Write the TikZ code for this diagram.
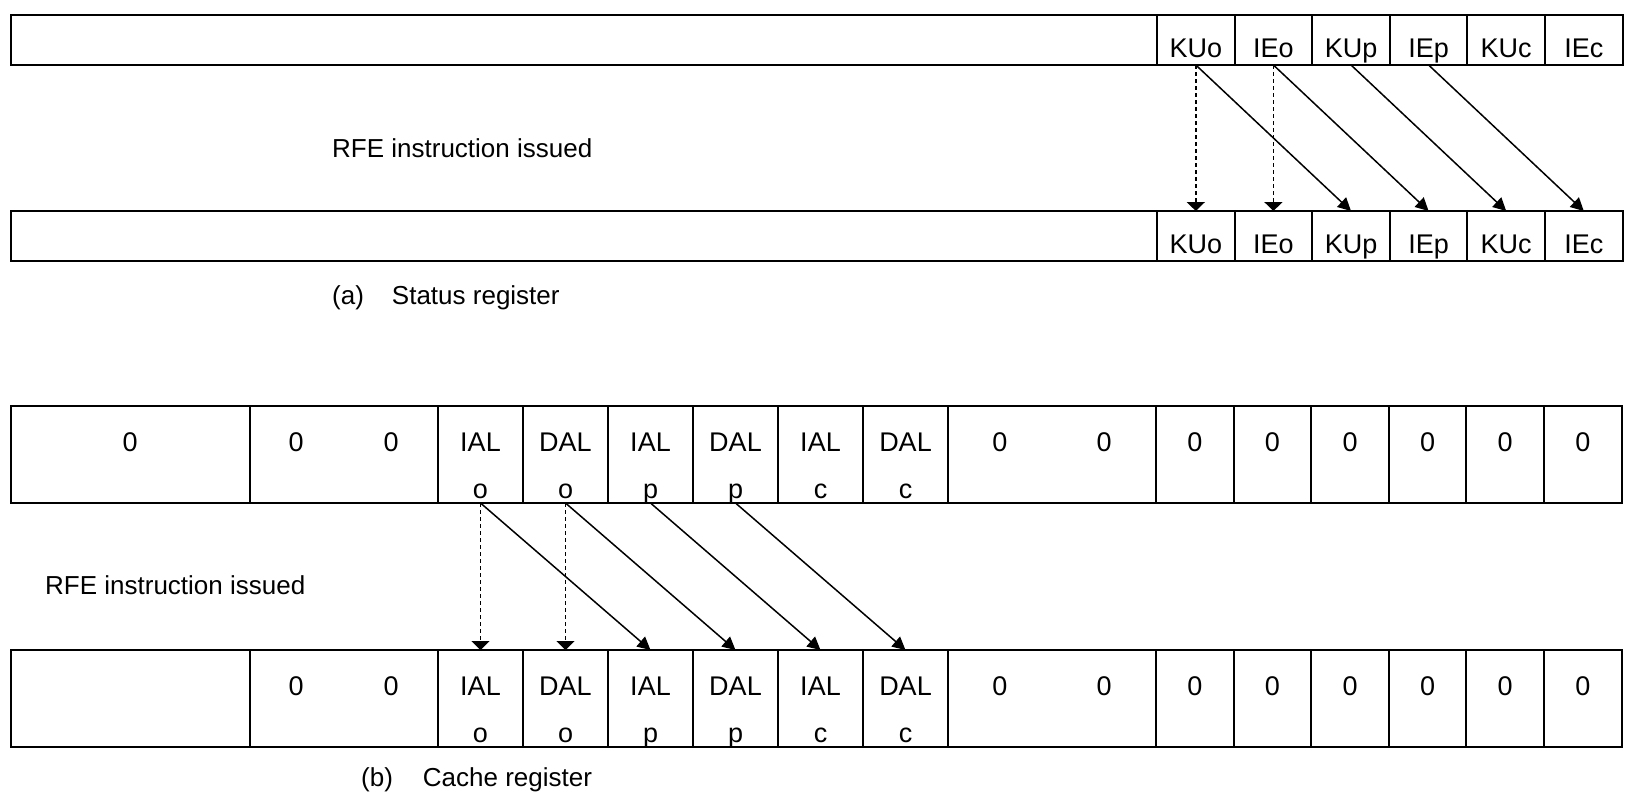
\documentclass[tikz,border=0pt]{standalone}
\usepackage{fontspec}
\setmainfont{Liberation Sans}
\usetikzlibrary{arrows.meta,positioning}

\begin{document}
\begin{tikzpicture}[x=1pt, y=-1pt, node distance=0pt,
        regcell/.style={rectangle, draw, line width=2pt, inner sep=0pt, outer sep=0pt, font=\fontsize{27}{47}\selectfont},
        acell/.style={regcell, minimum width=77.6pt, minimum height=50pt, text height=42pt, text depth=8pt},
        bcell/.style={regcell, minimum width=85pt, minimum height=97pt, text height=92pt, text depth=5pt, align=center},
        zcell/.style={regcell, minimum width=77.6pt, minimum height=97pt, text height=45pt, text depth=52pt},
        lbl/.style={inner sep=0pt, font=\fontsize{26}{30}\selectfont, anchor=base west},
        dotarrow/.style={-{Triangle[length=9pt, width=18pt]}, line width=1.8pt, dash pattern=on 3.5pt off 3.5pt},
        shiftarrow/.style={-{Triangle[length=13pt, width=13pt]}, line width=1.5pt}
    ]
        \useasboundingbox (0,0) rectangle (1632,796);

        % (a) status register, before
        \node[acell, minimum width=1146pt, anchor=north west] (s1wide) at (11,15) {};
        \node[acell, right=of s1wide] (s1kuo) {KUo};
        \node[acell, right=of s1kuo] (s1ieo) {IEo};
        \node[acell, right=of s1ieo] (s1kup) {KUp};
        \node[acell, right=of s1kup] (s1iep) {IEp};
        \node[acell, right=of s1iep] (s1kuc) {KUc};
        \node[acell, right=of s1kuc] (s1iec) {IEc};

        % (a) status register, after
        \node[acell, minimum width=1146pt, anchor=north west] (s2wide) at (11,211) {};
        \node[acell, right=of s2wide] (s2kuo) {KUo};
        \node[acell, right=of s2kuo] (s2ieo) {IEo};
        \node[acell, right=of s2ieo] (s2kup) {KUp};
        \node[acell, right=of s2kup] (s2iep) {IEp};
        \node[acell, right=of s2iep] (s2kuc) {KUc};
        \node[acell, right=of s2kuc] (s2iec) {IEc};

        \node[lbl] (rfea) at (332,157) {RFE instruction issued};
        \node[lbl] (capa) at (332,304) {(a)\hspace{28pt}Status register};

        \draw[dotarrow] (s1kuo.south) -- (s2kuo.north);
        \draw[dotarrow] (s1ieo.south) -- (s2ieo.north);
        \draw[shiftarrow] (s1kuo.south) -- (s2kup.north);
        \draw[shiftarrow] (s1ieo.south) -- (s2iep.north);
        \draw[shiftarrow] (s1kup.south) -- (s2kuc.north);
        \draw[shiftarrow] (s1iep.south) -- (s2iec.north);

        % (b) cache register, before
        \node[zcell, minimum width=238.5pt, anchor=north west] (c1high) at (11,406) {0};
        \node[zcell, minimum width=188.5pt, right=of c1high] (c1pair) {0\hspace{80pt}0};
        \node[bcell, right=of c1pair] (c1ialo) {IAL\\o};
        \node[bcell, right=of c1ialo] (c1dalo) {DAL\\o};
        \node[bcell, right=of c1dalo] (c1ialp) {IAL\\p};
        \node[bcell, right=of c1ialp] (c1dalp) {DAL\\p};
        \node[bcell, right=of c1dalp] (c1ialc) {IAL\\c};
        \node[bcell, right=of c1ialc] (c1dalc) {DAL\\c};
        \node[zcell, minimum width=208pt, right=of c1dalc] (c1mid) {0\hspace{89pt}0};
        \node[zcell, right=of c1mid] (c1z1) {0};
        \node[zcell, right=of c1z1] (c1z2) {0};
        \node[zcell, right=of c1z2] (c1z3) {0};
        \node[zcell, right=of c1z3] (c1z4) {0};
        \node[zcell, right=of c1z4] (c1z5) {0};
        \node[zcell, right=of c1z5] (c1z6) {0};

        % (b) cache register, after
        \node[zcell, minimum width=238.5pt, anchor=north west] (c2high) at (11,650) {};
        \node[zcell, minimum width=188.5pt, right=of c2high] (c2pair) {0\hspace{80pt}0};
        \node[bcell, right=of c2pair] (c2ialo) {IAL\\o};
        \node[bcell, right=of c2ialo] (c2dalo) {DAL\\o};
        \node[bcell, right=of c2dalo] (c2ialp) {IAL\\p};
        \node[bcell, right=of c2ialp] (c2dalp) {DAL\\p};
        \node[bcell, right=of c2dalp] (c2ialc) {IAL\\c};
        \node[bcell, right=of c2ialc] (c2dalc) {DAL\\c};
        \node[zcell, minimum width=208pt, right=of c2dalc] (c2mid) {0\hspace{89pt}0};
        \node[zcell, right=of c2mid] (c2z1) {0};
        \node[zcell, right=of c2z1] (c2z2) {0};
        \node[zcell, right=of c2z2] (c2z3) {0};
        \node[zcell, right=of c2z3] (c2z4) {0};
        \node[zcell, right=of c2z4] (c2z5) {0};
        \node[zcell, right=of c2z5] (c2z6) {0};

        \node[lbl] (rfeb) at (45,594) {RFE instruction issued};
        \node[lbl] (capb) at (361,786) {(b)\hspace{30pt}Cache register};

        \draw[dotarrow] (c1ialo.south) -- (c2ialo.north);
        \draw[dotarrow] (c1dalo.south) -- (c2dalo.north);
        \draw[shiftarrow] (c1ialo.south) -- (c2ialp.north);
        \draw[shiftarrow] (c1dalo.south) -- (c2dalp.north);
        \draw[shiftarrow] (c1ialp.south) -- (c2ialc.north);
        \draw[shiftarrow] (c1dalp.south) -- (c2dalc.north);
    \end{tikzpicture}
\end{document}
